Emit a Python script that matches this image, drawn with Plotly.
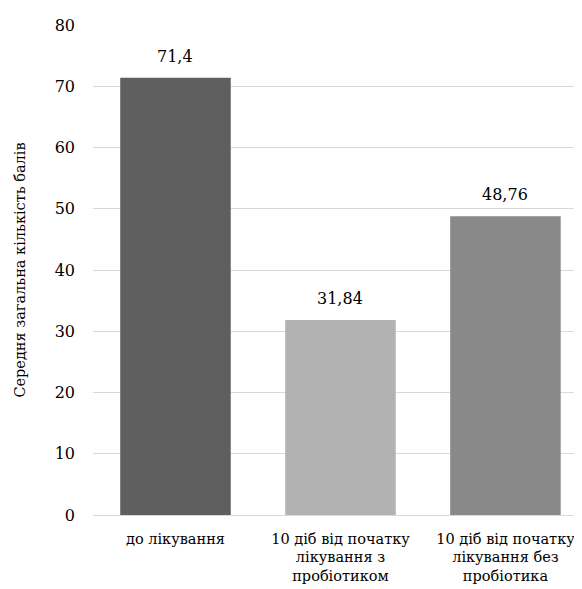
import plotly.graph_objects as go

categories = ["до лікування", "10 діб від початку<br>лікування з<br>пробіотиком", "10 діб від початку<br>лікування без<br>пробіотика"]
values = [71.4, 31.84, 48.76]
value_labels = ["71,4", "31,84", "48,76"]
bar_colors = ["#5f5f5f", "#b2b2b2", "#898989"]
y_ticks = [0, 10, 20, 30, 40, 50, 60, 70, 80]
y_title = "Середня загальна кількість балів"

font_family = "DejaVu Serif"

fig = go.Figure()
fig.add_trace(go.Bar(
    x=[0, 1, 2],
    y=values,
    marker=dict(color=bar_colors, line=dict(width=0)),
    width=0.67,
    hoverinfo="skip",
))

for i, (v, t) in enumerate(zip(values, value_labels)):
    fig.add_annotation(x=i, y=v, text=t, showarrow=False, yanchor="bottom",
                       yshift=10, font=dict(family=font_family, size=16, color="#000000"))

fig.update_layout(
    width=574, height=581,
    margin=dict(l=85, r=0, t=17, b=74),
    paper_bgcolor="white", plot_bgcolor="white",
    showlegend=False,
    font=dict(family=font_family, color="#000000"),
    xaxis=dict(
        tickmode="array", tickvals=[0, 1, 2], ticktext=categories,
        range=[-0.5, 2.464], showgrid=False, zeroline=False,
        showline=False, ticks="", tickfont=dict(size=14.5, family=font_family, color="#000000"),
        ticklabelstandoff=13,
    ),
    yaxis=dict(
        range=[0, 80], tickvals=y_ticks, showgrid=True, gridcolor="#d9d9d9", gridwidth=1.3,
        zeroline=True, zerolinecolor="#d9d9d9", zerolinewidth=1.3,
        showline=False, ticks="", tickfont=dict(size=16, family=font_family, color="#000000"),
        ticklabelstandoff=17,
        title=dict(text=y_title, font=dict(size=14.5, family=font_family, color="#000000"), standoff=25),
    ),
)

fig.write_html("out.html")
